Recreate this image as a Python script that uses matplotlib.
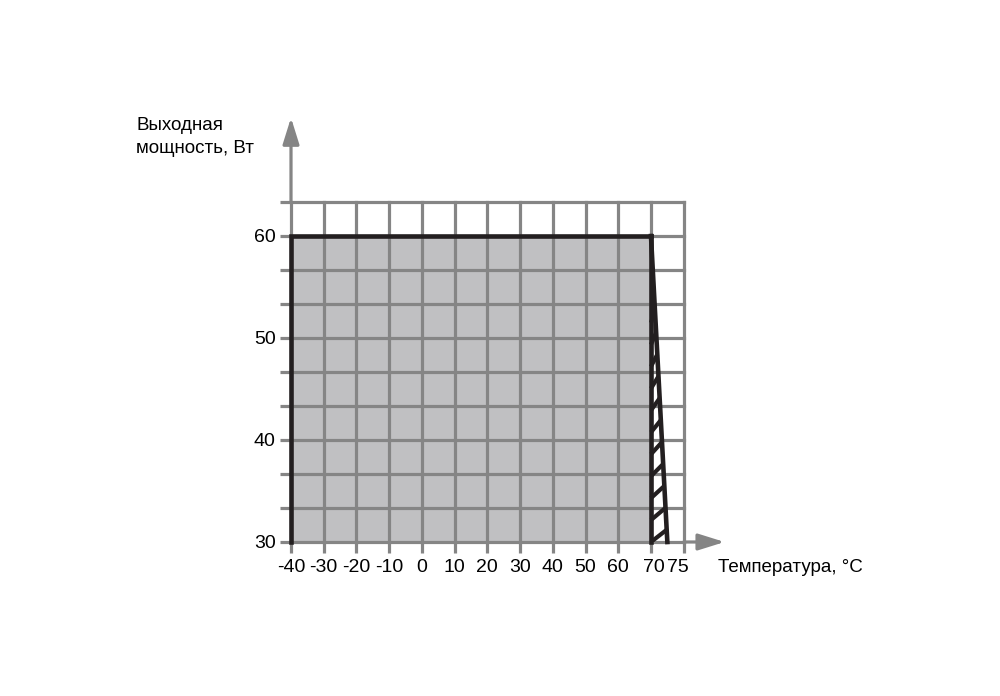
import numpy as np
import matplotlib.pyplot as plt
import matplotlib.transforms as mtransforms

plt.rcParams['font.family'] = ['Liberation Sans', 'DejaVu Sans']

# Derating curve: full power up to 70 C, falls to 30 W at 75 C
temp_flat = [-40, 70]
power_flat = [60, 60]
temp_drop = [70, 75]
power_drop = [60, 30]

x_ticks = [-40, -30, -20, -10, 0, 10, 20, 30, 40, 50, 60, 70, 80]
x_labels = ['-40', '-30', '-20', '-10', '0', '10', '20', '30', '40', '50', '60', '70', '']
y_grid = [30, 30 + 10 / 3, 30 + 20 / 3, 40, 40 + 10 / 3, 40 + 20 / 3, 50, 50 + 10 / 3, 50 + 20 / 3,
          60, 60 + 10 / 3]
y_labels = {30: '30', 40: '40', 50: '50', 60: '60'}
# left ends of hatch strokes in the derating triangle
hatch_y = [30, 32.15, 34.3, 36.45, 38.6, 40.75, 42.9, 45.05, 47.2, 49.35, 51.5]

grid_col = '#858585'
fill_col = '#c0c0c2'
line_col = '#231f20'

fig = plt.figure(figsize=(10, 6.96), dpi=100)
x0, x1 = 291 / 1000, 683.7 / 1000
y0, y1 = 1 - 542 / 696, 1 - 202 / 696
ax = fig.add_axes([x0, y0, x1 - x0, y1 - y0])
ax.set_xlim(-40, 80)
ax.set_ylim(30, y_grid[-1])

# grey area
ax.fill_between(temp_flat, [30, 30], power_flat, color=fill_col, lw=0, zorder=1)

# grid
for x in x_ticks:
    ax.axvline(x, color=grid_col, lw=2.3, zorder=2, clip_on=False)
for y in y_grid:
    ax.axhline(y, color=grid_col, lw=2.3, zorder=2, clip_on=False)

# hatched triangle between 70 and 75 C
slope = (temp_drop[1] - temp_drop[0]) / (power_drop[0] - power_drop[1])
for y in hatch_y:
    yt = y + 1.2
    xt = temp_drop[0] + slope * (power_drop[0] - yt)
    ax.plot([temp_drop[0], xt], [y, yt], color=line_col, lw=3, zorder=4, solid_capstyle='butt')

# outline
ax.plot([temp_flat[0], temp_flat[0], temp_flat[1]], [30, power_flat[0], power_flat[1]],
        color=line_col, lw=3.3, zorder=5, solid_joinstyle='miter', clip_on=False)
ax.plot(temp_drop, power_drop, color=line_col, lw=3.3, zorder=5, clip_on=False)
ax.plot([70, 70], [30, 60], color=line_col, lw=3.3, zorder=5, clip_on=False)

for s in ax.spines.values():
    s.set_visible(False)

# ticks
ax.set_xticks(x_ticks)
ax.set_xticklabels(x_labels)
ax.set_xticks([75], minor=True)
ax.set_xticklabels(['75'], minor=True)
ax.tick_params(axis='x', which='major', direction='out', length=8, width=2.3, color=grid_col,
               labelsize=14, pad=4)
ax.tick_params(axis='x', which='minor', length=0, labelsize=14, pad=12)
ax.set_yticks(y_grid)
ax.set_yticklabels([y_labels.get(round(v), '') if abs(v - round(v)) < 1e-6 else '' for v in y_grid])
ax.tick_params(axis='y', direction='out', length=8, width=2.3, color=grid_col,
               labelsize=14, pad=3)

# nudge 70 and 75 labels apart
for lab in ax.get_xticklabels():
    if lab.get_text() == '70':
        lab.set_transform(lab.get_transform() + mtransforms.ScaledTranslation(3 / 100, 0, fig.dpi_scale_trans))
for lab in ax.get_xticklabels(minor=True):
    lab.set_transform(lab.get_transform() + mtransforms.ScaledTranslation(11 / 100, 0, fig.dpi_scale_trans))

# axis arrows
arrow = dict(arrowstyle='-|>,head_length=1.6,head_width=0.5', color=grid_col, lw=2.3,
             shrinkA=0, shrinkB=0)
ax.annotate('', xy=(92.5, 30), xytext=(80, 30), arrowprops=arrow, annotation_clip=False)
ax.annotate('', xy=(-40, 71.6), xytext=(-40, y_grid[-1]), arrowprops=arrow, annotation_clip=False)

fig.text(0.136, 1 - 117 / 696, 'Выходная\nмощность, Вт', fontsize=13.5, ha='left', va='top',
         linespacing=1.45)
fig.text(0.718, 1 - 567 / 696, 'Температура, °C', fontsize=13.5, ha='left', va='center')

fig.savefig('out.png', dpi=100)
